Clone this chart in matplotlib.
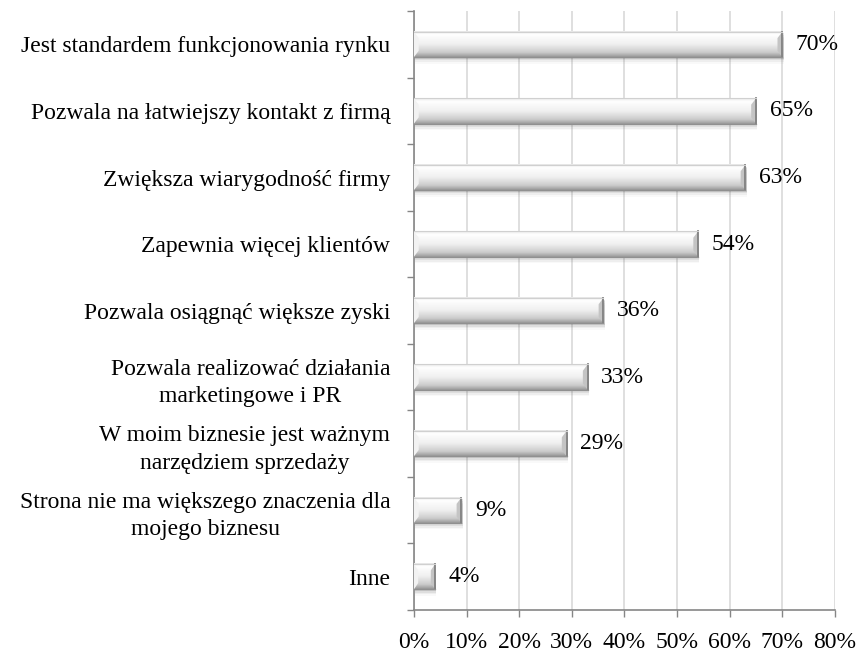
import numpy as np
import matplotlib.pyplot as plt

plt.rcParams['font.family'] = ['Liberation Serif', 'DejaVu Serif']

categories = [
    "Jest standardem funkcjonowania rynku",
    "Pozwala na łatwiejszy kontakt z firmą",
    "Zwiększa wiarygodność firmy",
    "Zapewnia więcej klientów",
    "Pozwala osiągnąć większe zyski",
    "Pozwala realizować działania\nmarketingowe i PR",
    "W moim biznesie jest ważnym\nnarzędziem sprzedaży",
    "Strona nie ma większego znaczenia dla\nmojego biznesu",
    "Inne",
]
values = [70, 65, 63, 54, 36, 33, 29, 9, 4]
xticks = [0, 10, 20, 30, 40, 50, 60, 70, 80]

n = len(categories)
ypos = np.arange(n)[::-1]
h = 0.38
fs = 17

fig = plt.figure(figsize=(8.58, 6.58), dpi=100)
ax = fig.add_axes([0.4825, 0.073, 0.4905, 0.910])

# vertical gradient for bar body: white top -> grey bottom
t = np.linspace(0, 1, 64)
shade = np.interp(t, [0, 0.12, 0.5, 0.82, 1.0], [0.90, 1.0, 0.94, 0.80, 0.60])
grad = np.repeat(shade[:, None, None], 3, axis=2)

for y, v in zip(ypos, values):
    # soft shadow below the bar
    for k, a in enumerate([0.16, 0.10, 0.06, 0.03]):
        off = 0.025 * (k + 1)
        ax.add_patch(plt.Rectangle((0.25, y - h / 2 - off), v, h, color='#505050',
                                   alpha=a, lw=0, zorder=2))
    ax.imshow(grad, extent=(0, v, y - h / 2, y + h / 2), aspect='auto',
              origin='upper', zorder=3, interpolation='bilinear')
    # bevelled ends
    bw = min(0.9, v * 0.2)
    ax.fill([0, bw, bw, 0], [y + h / 2, y + h / 4, y - h / 4, y - h / 2],
            color='#f2f2f2', lw=0, zorder=4)
    ax.fill([v, v - bw, v - bw, v], [y + h / 2, y + h / 4, y - h / 4, y - h / 2],
            color='#c4c4c4', lw=0, zorder=4)
    ax.plot([v, v], [y - h / 2, y + h / 2], color='#808080', lw=1.3, zorder=5)
    ax.plot([0, v], [y + h / 2, y + h / 2], color='#d0d0d0', lw=0.8, zorder=5)
    ax.plot([0, v], [y - h / 2, y - h / 2], color='#909090', lw=0.9, zorder=5)
    ax.text(v + 2.6, y, f"{v}%", va='center', ha='left', fontsize=fs, color='black')

ax.set_xlim(0, 80)
ax.set_ylim(-0.5, n - 0.5)
ax.set_xticks(xticks)
ax.set_xticklabels([f"{x}%" for x in xticks], fontsize=fs)
ax.set_yticks(ypos)
ax.set_yticklabels(categories, fontsize=fs, multialignment='center')
for lbl in ax.get_yticklabels():
    lbl.set_linespacing(1.4)
ax.set_yticks(np.arange(-0.5, n, 1.0), minor=True)

ax.tick_params(axis='y', which='major', length=0, pad=17)
ax.tick_params(axis='y', which='minor', length=5, color='#868686', width=1)
ax.tick_params(axis='x', length=5, color='#868686', width=1, pad=11)

ax.grid(axis='x', color='#d9d9d9', lw=1.2, zorder=0)
ax.set_axisbelow(True)
for s in ['top', 'right']:
    ax.spines[s].set_visible(False)
for s in ['left', 'bottom']:
    ax.spines[s].set_color('#868686')
    ax.spines[s].set_linewidth(1.2)

fig.savefig('out.png', dpi=100)
